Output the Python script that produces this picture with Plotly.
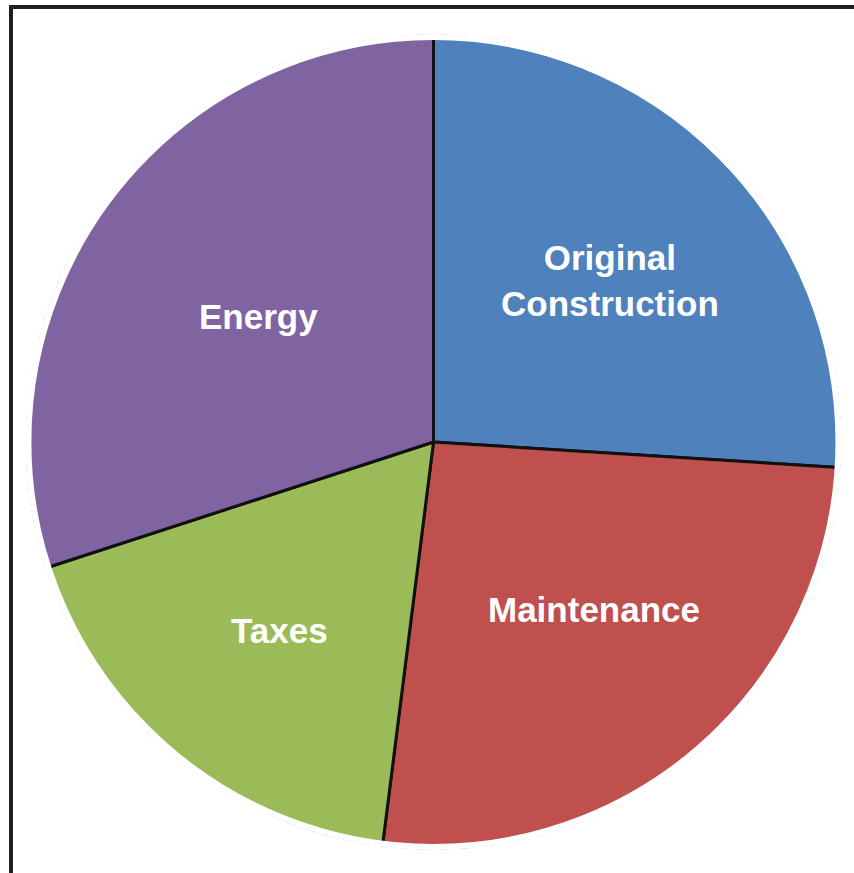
import plotly.graph_objects as go

labels = ["Original<br>Construction", "Maintenance", "Taxes", "Energy"]
values = [26, 26, 18, 30]
colors = ["#4F81BD", "#C0504D", "#9BBB59", "#8064A2"]
label_pos = [(610, 281), (594, 609), (279, 630), (258, 316)]

W, H = 854, 873
cx, cy, r = 433.5, 442, 406
dom_x = [(cx - r) / W, (cx + r) / W]
dom_y = [1 - (cy + r) / H, 1 - (cy - r) / H]

fig = go.Figure()
fig.add_trace(go.Pie(
    labels=labels, values=values, sort=False, direction="clockwise", rotation=0,
    marker=dict(colors=colors, line=dict(color="#111111", width=3)),
    textinfo="none", hoverinfo="none", showlegend=False,
    domain=dict(x=dom_x, y=dom_y),
))
# white ring to hide the outer outline
fig.add_trace(go.Pie(
    values=[1], sort=False, hole=0.995, textinfo="none", hoverinfo="none",
    marker=dict(colors=["white"], line=dict(color="white", width=4)),
    showlegend=False, domain=dict(x=dom_x, y=dom_y),
))

annotations = [
    dict(text=lab, x=px / W, y=1 - py / H, xref="paper", yref="paper",
         showarrow=False, xanchor="center", yanchor="middle",
         font=dict(family="Liberation Sans", size=35, color="white", weight="bold"))
    for lab, (px, py) in zip(labels, label_pos)
]

fig.update_layout(
    width=W, height=H, margin=dict(l=0, r=0, t=0, b=0),
    paper_bgcolor="white", plot_bgcolor="white",
    annotations=annotations,
    shapes=[dict(type="path", xref="paper", yref="paper",
                 path=f"M {11/W} 0 L {11/W} {1-7/H} L 1 {1-7/H}",
                 line=dict(color="#231f20", width=4))],
)
fig.write_html("out.html", config={"displayModeBar": False},
               post_script="document.body.style.margin='0';")
